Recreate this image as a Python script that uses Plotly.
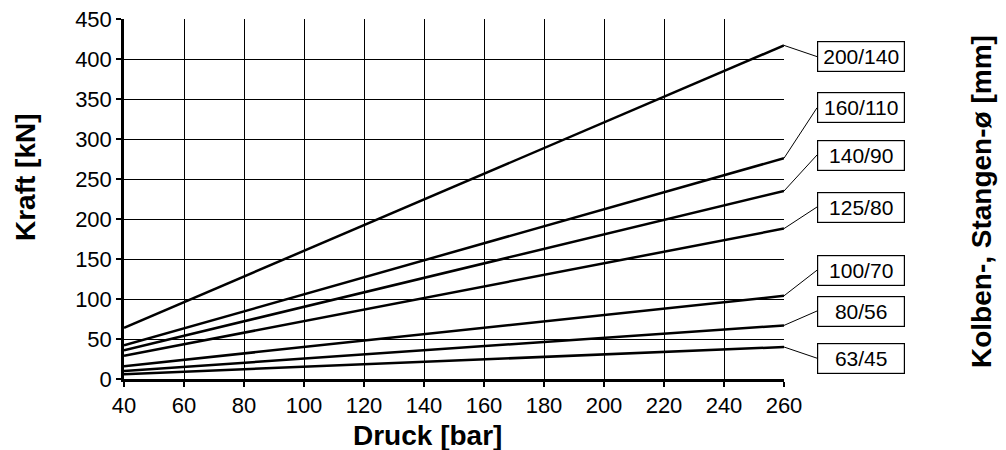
import plotly.graph_objects as go

# Data
pressure = [40, 260]
labels = ["200/140", "160/110", "140/90", "125/80", "100/70", "80/56", "63/45"]
force_40 = [64, 42, 36, 29, 16, 10, 6]
force_260 = [417, 276, 235, 188, 104, 67, 40]
label_y = [403, 339, 280, 215, 136, 85, 26]   # label box positions (kN scale)
x_ticks = list(range(40, 261, 20))
y_ticks = list(range(0, 451, 50))

FONT = "Liberation Sans, Arial, sans-serif"

fig = go.Figure()
for lab, f0, f1 in zip(labels, force_40, force_260):
    fig.add_trace(go.Scatter(x=pressure, y=[f0, f1], mode="lines",
                             line=dict(color="black", width=2.5),
                             name=lab, showlegend=False, hoverinfo="skip"))

annotations = []
for lab, f1, ly in zip(labels, force_260, label_y):
    annotations.append(dict(
        x=pressure[-1], y=f1, xref="x", yref="y",
        ax=271, ay=ly, axref="x", ayref="y",
        showarrow=True, arrowhead=0, arrowwidth=1, arrowcolor="black",
        standoff=0, startstandoff=0,
        text=lab, xanchor="left", yanchor="middle",
        width=84, height=27, borderpad=1, borderwidth=1.2,
        bordercolor="black", bgcolor="white", align="center",
        font=dict(family=FONT, size=21, color="black")))

annotations += [
    dict(text="<b>Druck [bar]</b>", xref="paper", yref="paper",
         x=(427 - 124) / 660, y=(379 - 436) / 360, showarrow=False,
         xanchor="center", yanchor="middle",
         font=dict(family=FONT, size=28, color="black")),
    dict(text="<b>Kraft [kN]</b>", xref="paper", yref="paper",
         x=(25 - 124) / 660, y=(379 - 177) / 360, showarrow=False,
         textangle=-90, xanchor="center", yanchor="middle",
         font=dict(family=FONT, size=28, color="black")),
    dict(text="<b>Kolben-, Stangen-ø [mm]</b>", xref="paper", yref="paper",
         x=(981 - 124) / 660, y=(379 - 202) / 360, showarrow=False,
         textangle=-90, xanchor="center", yanchor="middle",
         font=dict(family=FONT, size=28, color="black")),
]

fig.update_layout(
    width=1006, height=450,
    margin=dict(l=124, r=222, t=19, b=71, pad=0, autoexpand=False),
    paper_bgcolor="white", plot_bgcolor="white",
    font=dict(family=FONT, size=22, color="black"),
    annotations=annotations,
    showlegend=False,
)
axis_common = dict(showgrid=True, gridcolor="black", gridwidth=1.2,
                   showline=True, linecolor="black", linewidth=2.5,
                   ticks="outside", ticklen=5, tickwidth=1.5,
                   tickcolor="black", zeroline=False, automargin=False,
                   tickfont=dict(family=FONT, size=22, color="black"))
fig.update_xaxes(range=[40, 260], tickvals=x_ticks, **axis_common)
fig.update_yaxes(range=[0, 450], tickvals=y_ticks, **axis_common)

fig.write_html("out.html",
               config={"displayModeBar": False},
               post_script="document.body.style.margin='0';"
                           "document.body.style.overflow='hidden';")
